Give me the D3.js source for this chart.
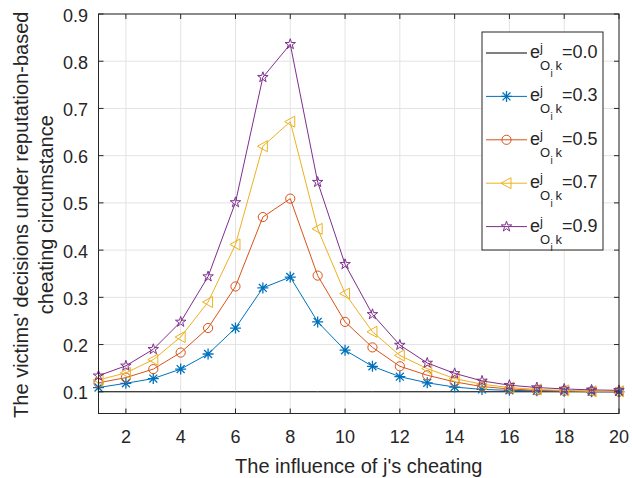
<!DOCTYPE html>
<html>
<head>
<meta charset="utf-8">
<script src="https://cdn.jsdelivr.net/npm/d3@7"></script>
<style>
  body { margin: 0; background: #fff; }
  text { font-family: "Liberation Sans", Arial, sans-serif; fill: #262626; }
</style>
</head>
<body>
<div id="chart"></div>
<script>
// data
const xValues = [1, 2, 3, 4, 5, 6, 7, 8, 9, 10, 11, 12, 13, 14, 15, 16, 17, 18, 19, 20];
const xTicks = [2, 4, 6, 8, 10, 12, 14, 16, 18, 20];
const yTicks = [0.1, 0.2, 0.3, 0.4, 0.5, 0.6, 0.7, 0.8, 0.9];
const seriesLabels = ["0.0", "0.3", "0.5", "0.7", "0.9"];
const e00 = [0.1, 0.1, 0.1, 0.1, 0.1, 0.1, 0.1, 0.1, 0.1, 0.1, 0.1, 0.1, 0.1, 0.1, 0.1, 0.1, 0.1, 0.1, 0.1, 0.1];
const e03 = [0.109, 0.118, 0.128, 0.148, 0.180, 0.235, 0.320, 0.343, 0.248, 0.188, 0.154, 0.132, 0.119, 0.110, 0.105, 0.103, 0.102, 0.101, 0.100, 0.100];
const e05 = [0.119, 0.130, 0.148, 0.183, 0.235, 0.323, 0.470, 0.509, 0.346, 0.248, 0.194, 0.154, 0.135, 0.121, 0.111, 0.106, 0.103, 0.102, 0.101, 0.100];
const e07 = [0.125, 0.140, 0.168, 0.216, 0.290, 0.412, 0.620, 0.672, 0.445, 0.308, 0.227, 0.177, 0.149, 0.128, 0.116, 0.109, 0.105, 0.103, 0.101, 0.101];
const e09 = [0.134, 0.155, 0.190, 0.248, 0.344, 0.501, 0.766, 0.836, 0.544, 0.370, 0.264, 0.199, 0.161, 0.139, 0.123, 0.114, 0.109, 0.106, 0.104, 0.103];

const colors = ["#000000", "#0072BD", "#D95319", "#EDB120", "#7E2F8E"];
const markers = [null, "asterisk", "circle", "triangleLeft", "star"];
const allSeries = [e00, e03, e05, e07, e09];

const W = 632, H = 478;
const plot = { left: 98.5, right: 619, top: 14, bottom: 413.5 };

const svg = d3.select('#chart').append('svg')
    .attr('width', W)
    .attr('height', H);

const x = d3.scaleLinear().domain([1, 20]).range([plot.left, plot.right]);
const y = d3.scaleLinear().domain([0.054, 0.9]).range([plot.bottom, plot.top]);

// grid
svg.append('g').selectAll('line')
    .data(xTicks).enter().append('line')
    .attr('x1', d => x(d)).attr('x2', d => x(d))
    .attr('y1', plot.top).attr('y2', plot.bottom)
    .attr('stroke', '#e3e3e3').attr('stroke-width', 1);
svg.append('g').selectAll('line')
    .data(yTicks).enter().append('line')
    .attr('x1', plot.left).attr('x2', plot.right)
    .attr('y1', d => y(d)).attr('y2', d => y(d))
    .attr('stroke', '#e3e3e3').attr('stroke-width', 1);

// marker shapes (MATLAB-like)
function markerPath(type) {
    const p = d3.path();
    if (type === 'asterisk') {
        const r = 5.5, d = r * 0.72;
        p.moveTo(-r, 0); p.lineTo(r, 0);
        p.moveTo(0, -r); p.lineTo(0, r);
        p.moveTo(-d, -d); p.lineTo(d, d);
        p.moveTo(-d, d); p.lineTo(d, -d);
    } else if (type === 'circle') {
        p.arc(0, 0, 4.6, 0, 2 * Math.PI);
    } else if (type === 'triangleLeft') {
        p.moveTo(-5.5, 0); p.lineTo(4.5, -5.5); p.lineTo(4.5, 5.5); p.closePath();
    } else if (type === 'star') {
        return d3.symbol(d3.symbolStar, 34)();
    }
    return p.toString();
}

function drawMarker(g, type, color, cx, cy) {
    if (!type) return;
    g.append('path')
        .attr('d', markerPath(type))
        .attr('transform', `translate(${cx},${cy})`)
        .attr('fill', 'none')
        .attr('stroke', color)
        .attr('stroke-width', type === 'asterisk' ? 1.3 : 1);
}

const line = d3.line()
    .x((d, i) => x(xValues[i]))
    .y(d => y(d));

allSeries.forEach((values, s) => {
    const g = svg.append('g');
    g.append('path')
        .datum(values)
        .attr('d', line)
        .attr('fill', 'none')
        .attr('stroke', colors[s])
        .attr('stroke-width', 1);
    values.forEach((v, i) => drawMarker(g, markers[s], colors[s], x(xValues[i]), y(v)));
});

// axes box
svg.append('rect')
    .attr('x', plot.left).attr('y', plot.top)
    .attr('width', plot.right - plot.left).attr('height', plot.bottom - plot.top)
    .attr('fill', 'none').attr('stroke', '#262626').attr('stroke-width', 1);

// inward ticks on all sides
const tickLen = 5;
const ticks = svg.append('g').attr('stroke', '#262626').attr('stroke-width', 1);
xTicks.forEach(t => {
    ticks.append('line').attr('x1', x(t)).attr('x2', x(t)).attr('y1', plot.bottom).attr('y2', plot.bottom - tickLen);
    ticks.append('line').attr('x1', x(t)).attr('x2', x(t)).attr('y1', plot.top).attr('y2', plot.top + tickLen);
});
yTicks.forEach(t => {
    ticks.append('line').attr('x1', plot.left).attr('x2', plot.left + tickLen).attr('y1', y(t)).attr('y2', y(t));
    ticks.append('line').attr('x1', plot.right).attr('x2', plot.right - tickLen).attr('y1', y(t)).attr('y2', y(t));
});

// tick labels
svg.append('g').selectAll('text')
    .data(xTicks).enter().append('text')
    .attr('x', d => x(d)).attr('y', 443)
    .attr('text-anchor', 'middle')
    .attr('font-size', 18)
    .text(d => d);
svg.append('g').selectAll('text')
    .data(yTicks).enter().append('text')
    .attr('x', 88).attr('y', d => y(d) + 7.5)
    .attr('text-anchor', 'end')
    .attr('font-size', 18)
    .text(d => d.toFixed(1));

// axis labels
svg.append('text')
    .attr('x', (plot.left + plot.right) / 2).attr('y', 473)
    .attr('text-anchor', 'middle')
    .attr('font-size', 20)
    .text("The influence of j's cheating");
const yl = svg.append('text')
    .attr('transform', `translate(0,${(plot.top + plot.bottom) / 2 + 1}) rotate(-90)`)
    .attr('text-anchor', 'middle')
    .attr('font-size', 20);
yl.append('tspan').attr('x', 0).attr('y', 28).text("The victims' decisions under reputation-based");
yl.append('tspan').attr('x', 0).attr('y', 53).text("cheating circumstance");

// legend
const legend = svg.append('g');
legend.append('rect')
    .attr('x', 482).attr('y', 32).attr('width', 121).attr('height', 218)
    .attr('fill', '#fff').attr('stroke', '#262626').attr('stroke-width', 1);

seriesLabels.forEach((lab, s) => {
    const B = 58 + s * 43.4;
    const ly = B - 5;
    legend.append('line')
        .attr('x1', 486).attr('x2', 527).attr('y1', ly).attr('y2', ly)
        .attr('stroke', colors[s]).attr('stroke-width', 1);
    drawMarker(legend, markers[s], colors[s], 506.5, ly);
    const t = legend.append('text').attr('font-size', 18);
    t.append('tspan').attr('x', 530).attr('y', B).text('e');
    t.append('tspan').attr('x', 540).attr('y', B - 6).attr('font-size', 13).text('j');
    t.append('tspan').attr('x', 540).attr('y', B + 12).attr('font-size', 13).text('O');
    t.append('tspan').attr('x', 550.5).attr('y', B + 19).attr('font-size', 10).text('i');
    t.append('tspan').attr('x', 555.5).attr('y', B + 12).attr('font-size', 13).text('k');
    t.append('tspan').attr('x', 562).attr('y', B).text('=' + lab);
});
</script>
</body>
</html>
